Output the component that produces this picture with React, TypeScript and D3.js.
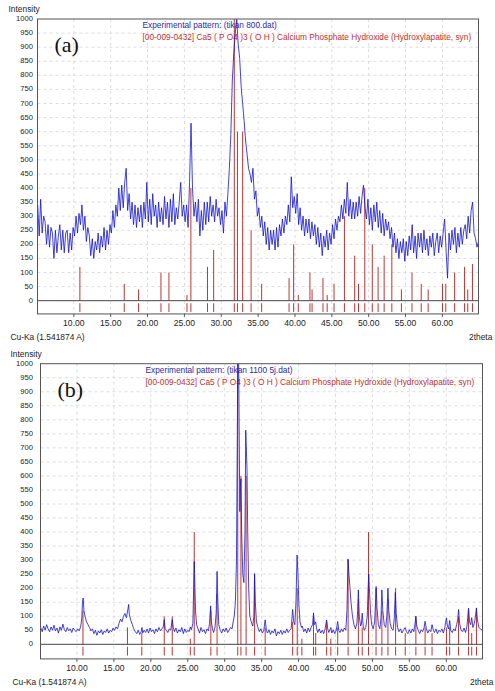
import React from 'react';
import * as d3 from 'd3';

// ---------- data ----------
// Reference pattern 00-009-0432 Hydroxylapatite: 2theta positions and relative intensity (x10)
const stickPos = [10.82, 16.84, 18.78, 21.82, 22.9, 25.35, 25.88, 28.13, 28.97, 31.77, 32.2, 32.9, 34.05, 35.48, 39.2, 39.82, 40.45, 42.03, 42.32, 43.8, 44.37, 45.3, 46.71, 48.1, 48.62, 49.47, 50.49, 51.28, 52.1, 53.14, 54.44, 55.88, 57.13, 58.07, 60.02, 60.46, 61.66, 63.01, 63.44, 64.08];
const stickInt = [120, 60, 40, 100, 100, 20, 400, 120, 180, 1000, 600, 600, 250, 60, 80, 200, 20, 100, 40, 80, 20, 60, 300, 160, 60, 400, 200, 120, 160, 200, 40, 100, 60, 40, 60, 60, 100, 120, 40, 130];

// Panel (a): experimental pattern tikan 800, sampled every 0.2 deg from 5.1
const expAStart = 5.1;
const expAStep = 0.2;
const expA = [
  340, 230, 360, 240, 300,
  280, 200, 270, 190, 260,
  240, 150, 250, 170, 230,
  270, 180, 250, 170, 240,
  250, 170, 240, 180, 260,
  230, 300, 240, 310, 270,
  340, 250, 300, 210, 260,
  230, 160, 220, 150, 210,
  180, 240, 170, 230, 190,
  260, 180, 250, 200, 270,
  240, 320, 260, 340, 300,
  400, 320, 410, 330, 420,
  470, 320, 380, 290, 350,
  270, 340, 260, 330, 280,
  340, 260, 350, 290, 420,
  280, 360, 270, 380, 300,
  340, 260, 350, 280, 330,
  270, 370, 290, 350, 260,
  360, 280, 380, 270, 330,
  290, 350, 420, 300, 340,
  280, 340, 260, 420, 630,
  400, 300, 350, 280, 360,
  230, 320, 250, 350, 270,
  350, 280, 370, 300, 340,
  280, 360, 300, 330, 270,
  320, 240, 350, 300, 380,
  470, 590, 780, 880, 950,
  1000, 910, 860, 760, 700,
  640, 570, 520, 470, 450,
  420, 470, 360, 390, 300,
  330, 260, 300, 230, 280,
  200, 260, 180, 250, 200,
  250, 180, 260, 190, 270,
  230, 290, 240, 300, 270,
  340, 280, 440, 330, 370,
  310, 380, 270, 330, 250,
  300, 230, 290, 240, 290,
  220, 280, 230, 270, 200,
  260, 190, 240, 160, 230,
  190, 250, 180, 240, 200,
  270, 220, 290, 250, 300,
  280, 340, 290, 360, 310,
  420, 300, 360, 290, 350,
  290, 350, 300, 370, 310,
  370, 410, 330, 290, 360,
  270, 330, 250, 340, 280,
  350, 260, 320, 240, 310,
  230, 290, 250, 280, 220,
  260, 190, 240, 170, 220,
  150, 210, 170, 220, 140,
  210, 160, 230, 180, 270,
  170, 230, 150, 240, 190,
  240, 170, 250, 180, 220,
  160, 230, 190, 240, 160,
  210, 240, 170, 230, 190,
  240, 290, 180, 80, 240,
  180, 250, 200, 260, 170,
  240, 190, 260, 200, 250,
  270, 220, 300, 240, 320,
  350, 240, 220, 190, 210,
];

// Panel (b): experimental pattern tikan 1100 5j, [2theta, intensity]
const expB: [number, number][] = [
  [5.1, 60], [5.3, 45], [5.5, 65], [5.7, 50], [5.9, 70], [6.1, 55], [6.3, 45], [6.5, 62], [6.7, 50], [6.9, 68],
  [7.1, 48], [7.3, 58], [7.5, 40], [7.7, 62], [7.9, 50], [8.1, 72], [8.3, 52], [8.5, 45], [8.7, 60], [8.9, 48],
  [9.1, 55], [9.3, 42], [9.5, 58], [9.7, 50], [9.9, 45], [10.1, 55], [10.3, 48], [10.5, 62], [10.65, 90], [10.75, 150],
  [10.85, 165], [10.95, 120], [11.1, 100], [11.3, 80], [11.5, 70], [11.7, 60], [11.9, 48], [12.1, 55], [12.3, 38], [12.5, 50],
  [12.7, 32], [12.9, 48], [13.1, 40], [13.3, 52], [13.5, 35], [13.7, 48], [13.9, 42], [14.1, 55], [14.3, 40], [14.5, 50],
  [14.7, 45], [14.9, 58], [15.1, 50], [15.3, 62], [15.5, 55], [15.7, 75], [15.9, 90], [16.1, 80], [16.3, 100], [16.5, 110],
  [16.7, 95], [16.9, 125], [17.0, 142], [17.1, 105], [17.3, 85], [17.5, 70], [17.7, 55], [17.9, 45], [18.1, 38], [18.3, 50],
  [18.5, 35], [18.7, 45], [18.8, 60], [18.9, 40], [19.1, 50], [19.3, 42], [19.5, 55], [19.7, 40], [19.9, 58], [20.1, 45],
  [20.3, 52], [20.5, 38], [20.7, 55], [20.9, 45], [21.1, 60], [21.3, 48], [21.5, 55], [21.7, 62], [21.82, 88], [21.95, 55],
  [22.1, 50], [22.3, 42], [22.5, 55], [22.7, 50], [22.9, 88], [23.05, 60], [23.2, 45], [23.4, 58], [23.6, 40], [23.8, 52],
  [24.0, 45], [24.2, 60], [24.4, 38], [24.6, 55], [24.8, 42], [25.0, 50], [25.2, 45], [25.35, 62], [25.5, 52], [25.7, 75],
  [25.8, 200], [25.88, 295], [25.95, 230], [26.05, 120], [26.2, 70], [26.4, 55], [26.6, 40], [26.8, 60], [27.0, 45], [27.2, 52],
  [27.4, 38], [27.6, 55], [27.8, 48], [27.95, 75], [28.1, 137], [28.2, 80], [28.35, 55], [28.5, 42], [28.7, 62], [28.85, 110],
  [28.97, 260], [29.08, 150], [29.2, 70], [29.4, 50], [29.6, 40], [29.8, 55], [30.0, 45], [30.2, 58], [30.4, 42], [30.6, 50],
  [30.8, 60], [31.0, 55], [31.15, 80], [31.3, 100], [31.45, 150], [31.6, 300], [31.7, 700], [31.78, 1050], [31.88, 1050], [31.98, 700],
  [32.05, 473], [32.12, 560], [32.2, 590], [32.3, 400], [32.45, 250], [32.6, 220], [32.75, 400], [32.85, 763], [32.93, 700], [33.02, 627],
  [33.12, 400], [33.25, 200], [33.4, 100], [33.6, 80], [33.8, 65], [33.95, 100], [34.05, 252], [34.15, 150], [34.3, 80], [34.5, 60],
  [34.7, 45], [34.9, 55], [35.1, 40], [35.3, 50], [35.48, 87], [35.65, 50], [35.8, 40], [36.0, 52], [36.2, 35], [36.4, 48],
  [36.6, 40], [36.8, 55], [37.0, 30], [37.2, 45], [37.4, 38], [37.6, 50], [37.8, 35], [38.0, 48], [38.2, 40], [38.4, 55],
  [38.6, 42], [38.8, 50], [39.0, 55], [39.2, 124], [39.35, 80], [39.5, 70], [39.65, 150], [39.8, 318], [39.92, 250], [40.05, 140],
  [40.2, 80], [40.4, 60], [40.5, 65], [40.7, 45], [40.9, 55], [41.1, 40], [41.3, 58], [41.5, 45], [41.7, 60], [41.9, 70],
  [42.03, 112], [42.15, 70], [42.32, 80], [42.45, 55], [42.6, 42], [42.8, 55], [43.0, 40], [43.2, 50], [43.4, 38], [43.6, 55],
  [43.8, 87], [43.95, 55], [44.1, 42], [44.37, 60], [44.5, 40], [44.7, 52], [44.9, 38], [45.1, 50], [45.3, 81], [45.45, 50],
  [45.6, 42], [45.8, 55], [46.0, 45], [46.2, 58], [46.4, 50], [46.55, 120], [46.7, 304], [46.82, 250], [46.95, 206], [47.1, 150],
  [47.3, 100], [47.5, 70], [47.7, 55], [47.9, 75], [48.0, 120], [48.1, 194], [48.22, 100], [48.4, 65], [48.5, 70], [48.62, 111],
  [48.75, 65], [48.9, 50], [49.1, 60], [49.3, 100], [49.42, 200], [49.5, 250], [49.62, 180], [49.75, 110], [49.9, 70], [50.1, 55],
  [50.3, 80], [50.42, 150], [50.5, 206], [50.62, 130], [50.8, 70], [51.0, 55], [51.15, 90], [51.28, 194], [51.4, 120], [51.6, 70],
  [51.8, 60], [51.95, 100], [52.1, 200], [52.22, 120], [52.4, 75], [52.6, 55], [52.8, 50], [52.95, 90], [53.1, 185], [53.22, 110],
  [53.4, 60], [53.6, 45], [53.8, 55], [54.0, 40], [54.2, 50], [54.44, 60], [54.6, 45], [54.8, 38], [55.0, 52], [55.2, 40],
  [55.4, 55], [55.6, 45], [55.75, 70], [55.88, 100], [56.0, 65], [56.2, 50], [56.4, 38], [56.6, 52], [56.8, 45], [57.0, 60],
  [57.13, 82], [57.3, 55], [57.5, 40], [57.7, 52], [57.9, 45], [58.07, 70], [58.25, 50], [58.4, 42], [58.6, 55], [58.8, 38],
  [59.0, 50], [59.2, 45], [59.4, 55], [59.6, 40], [59.8, 60], [60.02, 94], [60.15, 65], [60.3, 55], [60.46, 85], [60.6, 50],
  [60.8, 42], [61.0, 55], [61.2, 48], [61.4, 70], [61.55, 90], [61.66, 124], [61.8, 75], [62.0, 50], [62.2, 45], [62.4, 58],
  [62.6, 42], [62.8, 65], [62.9, 95], [63.01, 129], [63.15, 80], [63.3, 70], [63.44, 95], [63.6, 60], [63.8, 75], [63.95, 100],
  [64.08, 129], [64.2, 90], [64.4, 60], [64.6, 55], [64.8, 52], [64.95, 55],
];

const xTicks = [10, 15, 20, 25, 30, 35, 40, 45, 50, 55, 60];
const xTickLabels = ['10.00', '15.00', '20.00', '25.00', '30.00', '35.00', '40.00', '45.00', '50.00', '55.00', '60.00'];
const yTicks = [0, 50, 100, 150, 200, 250, 300, 350, 400, 450, 500, 550, 600, 650, 700, 750, 800, 850, 900, 950, 1000];
const xDomain: [number, number] = [5.07, 64.9];

const expAPoints: [number, number][] = expA.map((v, i) => [expAStart + i * expAStep, v]);

// ---------- drawing ----------
const SANS = '"Liberation Sans", Arial, sans-serif';
const BLUE = '#1010d0';
const RED = '#c03434';

type PanelProps = {
  id: string;
  data: [number, number][];
  left: number;
  right: number;
  top: number;
  zero: number;
  yMin: number;
  tag: string;
  expName: string;
  cuX: number;
  thetaX: number;
  intensityX: number;
};

function Panel(p: PanelProps) {
  const x = d3.scaleLinear().domain(xDomain).range([p.left, p.right]);
  const y = d3.scaleLinear().domain([0, 1000]).range([p.zero, p.top]);
  const bottom = y(p.yMin);
  const line = d3
    .line<[number, number]>()
    .x((d) => x(d[0]))
    .y((d) => y(d[1]));
  const clip = `clip-${p.id}`;
  return (
    <g>
      <defs>
        <clipPath id={clip}>
          <rect x={p.left} y={p.top} width={p.right - p.left} height={bottom - p.top} />
        </clipPath>
      </defs>
      {yTicks.slice(1, -1).map((t) => (
        <line key={'gy' + t} x1={p.left} x2={p.right} y1={y(t)} y2={y(t)} stroke="#d4d4d4" strokeWidth={0.8} strokeDasharray="3,3" />
      ))}
      {xTicks.map((t) => (
        <line key={'gx' + t} x1={x(t)} x2={x(t)} y1={p.top} y2={bottom} stroke="#d4d4d4" strokeWidth={0.8} strokeDasharray="3,3" />
      ))}
      <text x={p.left + 105} y={p.top + 7} fontFamily={SANS} fontSize={8.3} fill="#2a2aa8" dominantBaseline="middle">
        {`Experimental pattern: (${p.expName})`}
      </text>
      <text x={p.left + 105} y={p.top + 19} fontFamily={SANS} fontSize={8.3} fill="#c03030" dominantBaseline="middle">
        [00-009-0432] Ca5 ( P O4 )3 ( O H ) Calcium Phosphate Hydroxide (Hydroxylapatite, syn)
      </text>
      <text x={p.left + 17} y={p.top + 33} fontFamily='"Liberation Serif", "Times New Roman", serif' fontSize={22} fill="#111">
        {p.tag}
      </text>
      <g clipPath={`url(#${clip})`}>
        {stickPos.map((s, i) => (
          <line key={'s' + i} x1={x(s)} x2={x(s)} y1={y(0)} y2={y(stickInt[i])} stroke={RED} strokeWidth={1} />
        ))}
        {stickPos.map((s, i) => (
          <line key={'m' + i} x1={x(s)} x2={x(s)} y1={y(-9)} y2={y(-40)} stroke={RED} strokeWidth={1} />
        ))}
        <path d={line(p.data) || ''} fill="none" stroke={BLUE} strokeWidth={0.9} strokeOpacity={0.88} strokeLinejoin="round" />
      </g>
      <line x1={p.left} x2={p.right} y1={y(0)} y2={y(0)} stroke="#444" strokeWidth={1} />
      <rect x={p.left} y={p.top} width={p.right - p.left} height={bottom - p.top} fill="none" stroke="#555" strokeWidth={1} />
      {yTicks.map((t) => (
        <text key={'yl' + t} x={33} y={y(t)} fontFamily={SANS} fontSize={7.6} fill="#222" textAnchor="end" dominantBaseline="middle">
          {t}
        </text>
      ))}
      {xTicks.map((t, i) => (
        <g key={'xt' + t}>
          <line x1={x(t)} x2={x(t)} y1={bottom} y2={bottom + 3} stroke="#555" strokeWidth={1} />
          <text x={x(t)} y={bottom + 9.5} fontFamily={SANS} fontSize={8.6} fill="#222" textAnchor="middle" dominantBaseline="middle">
            {xTickLabels[i]}
          </text>
        </g>
      ))}
      <text x={p.intensityX} y={p.top - 9} fontFamily={SANS} fontSize={8.4} fill="#222" dominantBaseline="middle">
        Intensity
      </text>
      <text x={p.cuX} y={bottom + 24} fontFamily={SANS} fontSize={8.4} fill="#222" dominantBaseline="middle">
        Cu-Ka (1.541874 A)
      </text>
      <text x={p.thetaX} y={bottom + 24} fontFamily={SANS} fontSize={8.4} fill="#222" dominantBaseline="middle">
        2theta
      </text>
    </g>
  );
}

export default function App() {
  return (
    <svg width={495} height={691} viewBox="0 0 495 691" style={{ position: 'absolute', left: 0, top: 0, background: '#fff' }}>
      <rect x={0} y={0} width={495} height={691} fill="#fff" />
      <Panel
        id="a"
        data={expAPoints}
        left={37.5}
        right={478.5}
        top={19}
        zero={300.7}
        yMin={-47}
        tag="(a)"
        expName="tikan 800.dat"
        cuX={10.5}
        thetaX={469}
        intensityX={8.5}
      />
      <Panel
        id="b"
        data={expB}
        left={40.5}
        right={482.5}
        top={363.7}
        zero={644.3}
        yMin={-52}
        tag="(b)"
        expName="tikan 1100 5j.dat"
        cuX={12.5}
        thetaX={470}
        intensityX={10.5}
      />
    </svg>
  );
}
